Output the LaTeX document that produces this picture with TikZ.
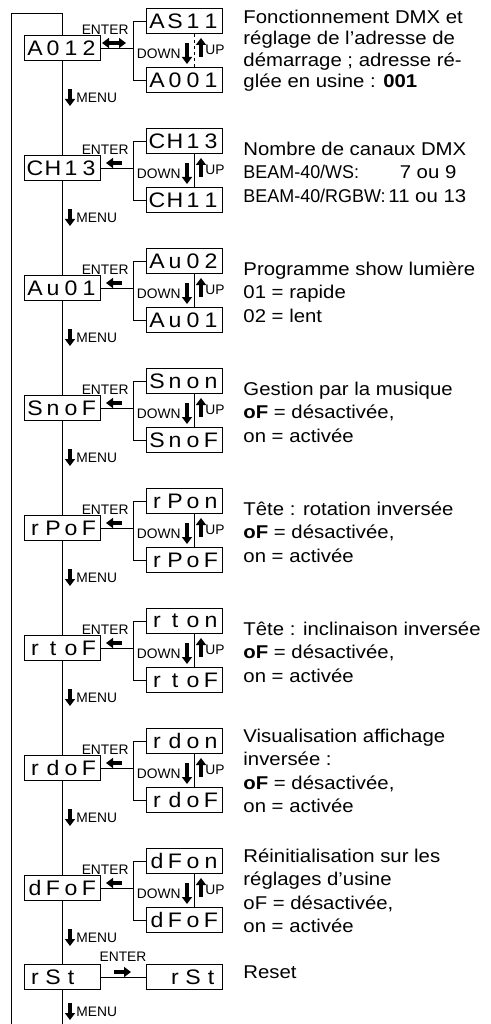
\documentclass[tikz,border=0pt]{standalone}
\usepackage{fontspec}
\setmainfont{Liberation Sans}[FakeStretch=1.1]
\newfontfamily\condfont{Liberation Sans}[FakeStretch=0.97]
\newfontfamily\labfont{Liberation Sans}
\usetikzlibrary{arrows.meta, positioning}

% afficheur 7 segments : 4 positions
\newcommand{\segdisp}[4]{\makebox[18pt]{#1}\makebox[18pt]{#2}\makebox[18pt]{#3}\makebox[18pt]{#4}}

\tikzset{
    disp/.style={draw, line width=1pt, minimum width=76pt, minimum height=25pt, inner sep=0pt, font=\fontsize{21}{21}\selectfont},
    lab/.style={inner sep=0pt, font=\labfont\fontsize{13.8}{13.8}\selectfont},
    txt/.style={anchor=north west, align=left, inner sep=0pt, font=\fontsize{18.5}{23.5}\selectfont},
    fat/.style={line width=3.5pt, -{Triangle[width=10pt,length=7pt]}},
    fatboth/.style={line width=3.5pt, {Triangle[width=10pt,length=7pt]}-{Triangle[width=10pt,length=7pt]}, shorten <=-4pt, shorten >=-4pt},
}

\begin{document}
\begin{tikzpicture}[x=1pt, y=-1pt, line width=0.9pt]
    \useasboundingbox (0,0) rectangle (490,1024);

    % Menus
    \foreach \k/\ma/\up/\lo/\st/\tip in {1/A012/AS11/A001/dashed/fatboth, 2/CH13/CH13/CH11/solid/fat,
        3/Au01/Au02/Au01/solid/fat, 4/SnoF/Snon/SnoF/solid/fat, 5/rPoF/rPon/rPoF/solid/fat,
        6/rtoF/rton/rtoF/solid/fat, 7/rdoF/rdon/rdoF/solid/fat, 8/dFoF/dFon/dFoF/solid/fat} {
        \pgfmathsetmacro\yy{48+120*(\k-1)}
        \node[disp] (m\k) at (62,\yy) {\expandafter\segdisp\ma};
        \node[disp] (u\k) at (184,\yy-27) {\expandafter\segdisp\up};
        \node[disp] (l\k) at (184,\yy+32) {\expandafter\segdisp\lo};
        \draw (m\k.east) -- ++(33,0) coordinate (b\k) |- (u\k.west);
        \draw (b\k) |- (l\k.west);
        \draw[\st] ([xshift=10pt]u\k.south) -- ([xshift=10pt]l\k.north);
        \node[lab, anchor=east] (e\k) at (129,\yy-18) {ENTER};
        \draw[\tip] (122,\yy-5) -- (106,\yy-5);
        \node[lab, anchor=east] (dn\k) at (181,\yy+6) {DOWN};
        \draw[fat] (187,\yy-5) -- (187,\yy+16);
        \node[lab, anchor=west] (up\k) at (205,\yy+2) {UP};
        \draw[fat] (201,\yy+9) -- (201,\yy-10);
        \node[lab, anchor=west] (mn\k) at (76,\yy+50) {MENU};
        \draw[fat] (70,\yy+41) -- (70,\yy+58);
    }

    % Reset
    \node[disp] (rs1) at (62,977) {\segdisp{r}{S}{t}{}};
    \node[disp] (rs2) at (184,977) {\segdisp{}{r}{S}{t}};
    \draw (rs1) -- (rs2);
    \node[lab] (e9) at (123,957) {ENTER};
    \draw[fat] (114,972) -- (131,972);
    \node[lab, anchor=west] (mn9) at (76,1012) {MENU};
    \draw[fat] (70,1003) -- (70,1020);

    % chaine principale et retour
    \foreach \a/\b in {m1/m2, m2/m3, m3/m4, m4/m5, m5/m6, m6/m7, m7/m8, m8/rs1}
        \draw (\a.south) -- (\b.north);
    \coordinate (top) at (62,13);
    \coordinate (ret) at (11,13);
    \coordinate (bot) at (11,1024);
    \coordinate (fin) at (62,1024);
    \draw (m1.north) -- (top) -- (ret) -- (bot);
    \draw (rs1.south) -- (fin);

    % Textes
    \node[txt, font=\fontsize{18.5}{21.6}\selectfont] (t1) at (243,7.6) {\strut Fonctionnement DMX et\\réglage de l’adresse de\\démarrage ; adresse ré-\\glée en usine : \textbf{001}};
    \node[txt] (t2) at (243,138.5) {\strut Nombre de canaux DMX\\\makebox[145pt][l]{\condfont BEAM-40/WS:}\phantom{1}7 ou 9\\\makebox[145pt][l]{\condfont BEAM-40/RGBW:}11 ou 13};
    \node[txt] (t3) at (243,258.5) {\strut Programme show lumière\\01 = rapide\\02 = lent};
    \node[txt] (t4) at (243,378.5) {\strut Gestion par la musique\\\textbf{oF} = désactivée,\\on = activée};
    \node[txt] (t5) at (243,498.5) {\strut Tête : rotation inversée\\\textbf{oF} = désactivée,\\on = activée};
    \node[txt] (t6) at (243,618.5) {\strut Tête : inclinaison inversée\\\textbf{oF} = désactivée,\\on = activée};
    \node[txt] (t7) at (243,725.5) {\strut Visualisation affichage\\inversée :\\\textbf{oF} = désactivée,\\on = activée};
    \node[txt] (t8) at (243,845.5) {\strut Réinitialisation sur les\\réglages d’usine\\oF = désactivée,\\on = activée};
    \node[txt, anchor=base west] (t9) at (243,978) {Reset};
\end{tikzpicture}
\end{document}
